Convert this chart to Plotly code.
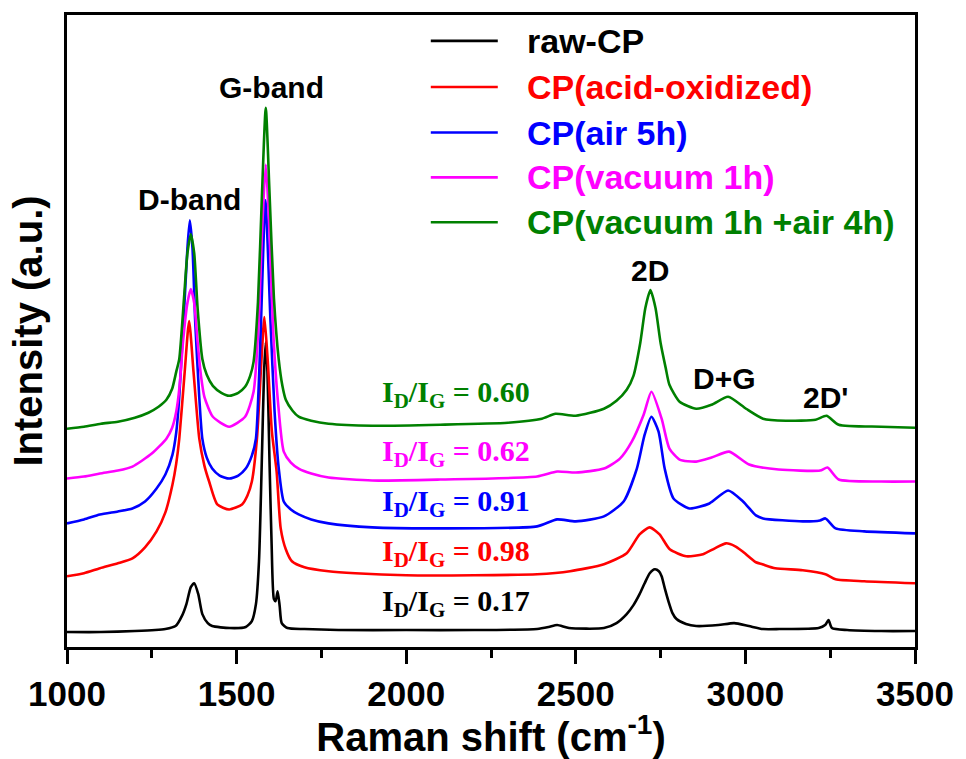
import plotly.graph_objects as go

# ---------------- data (Raman shift in cm-1, intensity in a.u. incl. vertical offset) ----------------
series_names = ["raw-CP", "CP(acid-oxidized)", "CP(air 5h)", "CP(vacuum 1h)", "CP(vacuum 1h +air 4h)"]
series_colors = ["#000000", "#FF0000", "#0000FF", "#FF00FF", "#008000"]
ratio_labels = ["0.17", "0.98", "0.91", "0.62", "0.60"]

raw_x = [1000, 1100, 1200, 1260, 1290, 1320, 1340, 1352, 1365, 1375, 1387, 1399, 1415, 1428, 1480, 1527,
         1545, 1557, 1566, 1575, 1581, 1586, 1591, 1597, 1603, 1610, 1615, 1621, 1627, 1633, 1650,
         1700, 1800, 2000, 2200, 2386, 2420, 2445, 2480, 2583, 2620, 2650, 2670, 2688, 2703, 2718,
         2733, 2745, 2753, 2763, 2773, 2785, 2797, 2825, 2855, 2920, 2967, 3010, 3052, 3100, 3216,
         3235, 3245, 3255, 3300, 3400, 3500]
raw_y = [15, 15, 16, 17, 18, 21, 32, 43, 60, 64, 53, 33, 24, 21, 19, 20,
         26, 43, 86, 196, 276, 306, 276, 186, 106, 48, 46, 56, 41, 24, 19,
         18, 17, 17, 17, 18, 20, 22, 19, 19, 24, 33, 42, 53, 64, 74,
         78, 76, 71, 58, 46, 34, 28, 23, 21, 22, 24, 21, 18, 18, 19,
         22, 27, 19, 17, 16, 16]

acid_x = [1000, 1050, 1097, 1150, 1193, 1230, 1264, 1290, 1311, 1322, 1331, 1347, 1360, 1373, 1390,
          1405, 1419, 1443, 1478, 1516, 1532, 1545, 1560, 1573, 1582, 1592, 1604, 1618, 1630, 1645,
          1663, 1700, 1771, 1850, 2000, 2200, 2386, 2483, 2583, 2650, 2688, 2718, 2747, 2777, 2826,
          2875, 2910, 2943, 2970, 2991, 3031, 3050, 3088, 3169, 3236, 3266, 3350, 3500]
acid_y = [71, 74, 79, 84, 89, 100, 116, 135, 163, 184, 209, 276, 327, 276, 209,
          182, 166, 143, 138, 143, 152, 166, 209, 286, 331, 286, 216, 176, 119, 98,
          86, 80, 76, 74, 72, 72, 73, 76, 83, 94, 113, 120, 113, 98, 91,
          93, 99, 104, 101, 96, 85, 83, 79, 77, 73, 68, 66, 64]

air_x = [1000, 1050, 1097, 1150, 1193, 1230, 1264, 1290, 1311, 1322, 1330, 1345, 1355, 1362, 1370,
         1378, 1390, 1399, 1412, 1428, 1450, 1478, 1505, 1527, 1545, 1557, 1570, 1585, 1600, 1612,
         1624, 1639, 1660, 1683, 1720, 1771, 1900, 2100, 2386, 2445, 2500, 2583, 2641, 2680, 2703,
         2723, 2744, 2762, 2788, 2835, 2894, 2949, 2993, 3031, 3052, 3169, 3220, 3236, 3266, 3350,
         3500]
air_y = [124, 128, 133, 136, 139, 146, 159, 173, 193, 215, 246, 336, 400, 428, 400,
         326, 250, 209, 190, 179, 172, 169, 172, 179, 192, 209, 306, 448, 326, 236,
         180, 146, 138, 133, 128, 124, 120, 119, 121, 128, 126, 131, 146, 179, 213,
         231, 216, 179, 149, 139, 144, 157, 146, 132, 129, 126, 127, 129, 119, 116,
         114]

vac_x = [1000, 1050, 1097, 1150, 1193, 1250, 1293, 1310, 1322, 1332, 1342, 1355, 1365, 1375, 1385,
         1395, 1405, 1430, 1478, 1525, 1550, 1565, 1575, 1586, 1597, 1608, 1622, 1639, 1660, 1683,
         1720, 1771, 1900, 2100, 2386, 2445, 2500, 2583, 2630, 2665, 2700, 2723, 2753, 2776, 2806,
         2855, 2900, 2952, 3011, 3098, 3220, 3242, 3275, 3400, 3500]
vac_y = [169, 171, 174, 177, 181, 194, 209, 220, 236, 262, 306, 345, 359, 345, 306,
         272, 251, 231, 221, 231, 256, 326, 416, 484, 416, 316, 246, 196, 185, 179,
         174, 170, 167, 168, 171, 176, 175, 179, 189, 206, 233, 256, 229, 199, 188,
         186, 190, 196, 183, 178, 177, 180, 168, 166, 166]

vacair_x = [1000, 1050, 1100, 1150, 1200, 1240, 1270, 1293, 1310, 1322, 1331, 1345, 1355, 1365, 1375,
            1385, 1399, 1412, 1430, 1455, 1478, 1505, 1525, 1540, 1550, 1563, 1575, 1586, 1597, 1610,
            1624, 1635, 1645, 1665, 1683, 1720, 1771, 1900, 2100, 2300, 2400, 2440, 2500, 2583, 2620,
            2650, 2670, 2690, 2705, 2720, 2735, 2750, 2765, 2776, 2806, 2855, 2900, 2949, 3002, 3052,
            3119, 3207, 3239, 3275, 3400, 3500]
vacair_y = [219, 221, 224, 226, 230, 235, 241, 248, 259, 276, 289, 350, 395, 414, 395,
            340, 289, 273, 262, 255, 252, 255, 261, 272, 286, 346, 456, 541, 456, 350,
            289, 262, 248, 237, 231, 227, 224, 222, 223, 225, 229, 234, 232, 239, 247,
            258, 272, 305, 340, 358, 340, 305, 280, 263, 246, 239, 243, 251, 239, 229,
            227, 228, 232, 223, 221, 220]

series_x = [raw_x, acid_x, air_x, vac_x, vacair_x]
series_y = [raw_y, acid_y, air_y, vac_y, vacair_y]

# annotation labels (peak names) with their data positions
peak_labels = ["D-band", "G-band", "2D", "D+G", "2D'"]
peak_label_x = [1360, 1604, 2718, 2937, 3236]
peak_label_y = [449, 561, 378, 269, 250]

ratio_label_x = [1923, 1923, 1923, 1923, 1923]
ratio_label_y = [44, 94, 144, 195, 254]

x_ticks = [1000, 1500, 2000, 2500, 3000, 3500]

# ---------------- figure ----------------
SANS = "Liberation Sans, Arial, sans-serif"
SERIF = "Liberation Serif, Times New Roman, serif"

fig = go.Figure()
for name, xs, ys, col in zip(series_names, series_x, series_y, series_colors):
    fig.add_trace(go.Scatter(x=xs, y=ys, mode="lines", name=name,
                             line=dict(color=col, width=2.6, shape="spline", smoothing=0.6),
                             showlegend=False))

# peak labels
for t, px, py in zip(peak_labels, peak_label_x, peak_label_y):
    fig.add_annotation(x=px, y=py, text=t, showarrow=False, xanchor="center", yanchor="middle",
                       font=dict(family=SANS, size=30, color="black", weight="bold"))

# ID/IG labels
for r, px, py, col in zip(ratio_labels, ratio_label_x, ratio_label_y, series_colors):
    fig.add_annotation(x=px, y=py, text=f"I<sub>D</sub>/I<sub>G</sub> = {r}", showarrow=False,
                       xanchor="left", yanchor="middle",
                       font=dict(family=SERIF, size=30, color=col, weight="bold"))

# legend (drawn manually to match long line samples)
legend_rows = [0.959, 0.886, 0.814, 0.743, 0.672]
for name, col, ry in zip(series_names, series_colors, legend_rows):
    fig.add_shape(type="line", xref="paper", yref="paper", x0=0.429, x1=0.508, y0=ry, y1=ry,
                  line=dict(color=col, width=2.6))
    fig.add_annotation(xref="paper", yref="paper", x=0.540, y=ry, text=name, showarrow=False,
                       xanchor="left", yanchor="middle",
                       font=dict(family=SANS, size=34, color=col, weight="bold"))

fig.update_layout(
    width=966, height=759,
    margin=dict(l=67, r=46, t=12, b=112),
    paper_bgcolor="white", plot_bgcolor="white",
    xaxis=dict(range=[1000, 3500], tickvals=x_ticks, ticks="outside", ticklen=14, tickwidth=3,
               tickcolor="black", showline=True, linewidth=3, linecolor="black", mirror=True,
               showgrid=False, zeroline=False,
               minor=dict(ticks="outside", ticklen=8, tickwidth=3, tickcolor="black", dtick=250,
                          tick0=1000, showgrid=False),
               tickfont=dict(family=SANS, size=35, color="black", weight="bold"),
               title=dict(text="Raman shift (cm<sup>-1</sup>)", standoff=0,
                          font=dict(family=SANS, size=40, color="black", weight="bold"))),
    yaxis=dict(range=[0, 634], showticklabels=False, ticks="", showline=True, linewidth=3,
               linecolor="black", mirror=True, showgrid=False, zeroline=False,
               title=dict(text="Intensity (a.u.)", standoff=10,
                          font=dict(family=SANS, size=40, color="black", weight="bold"))),
)

fig.write_html("out.html")
